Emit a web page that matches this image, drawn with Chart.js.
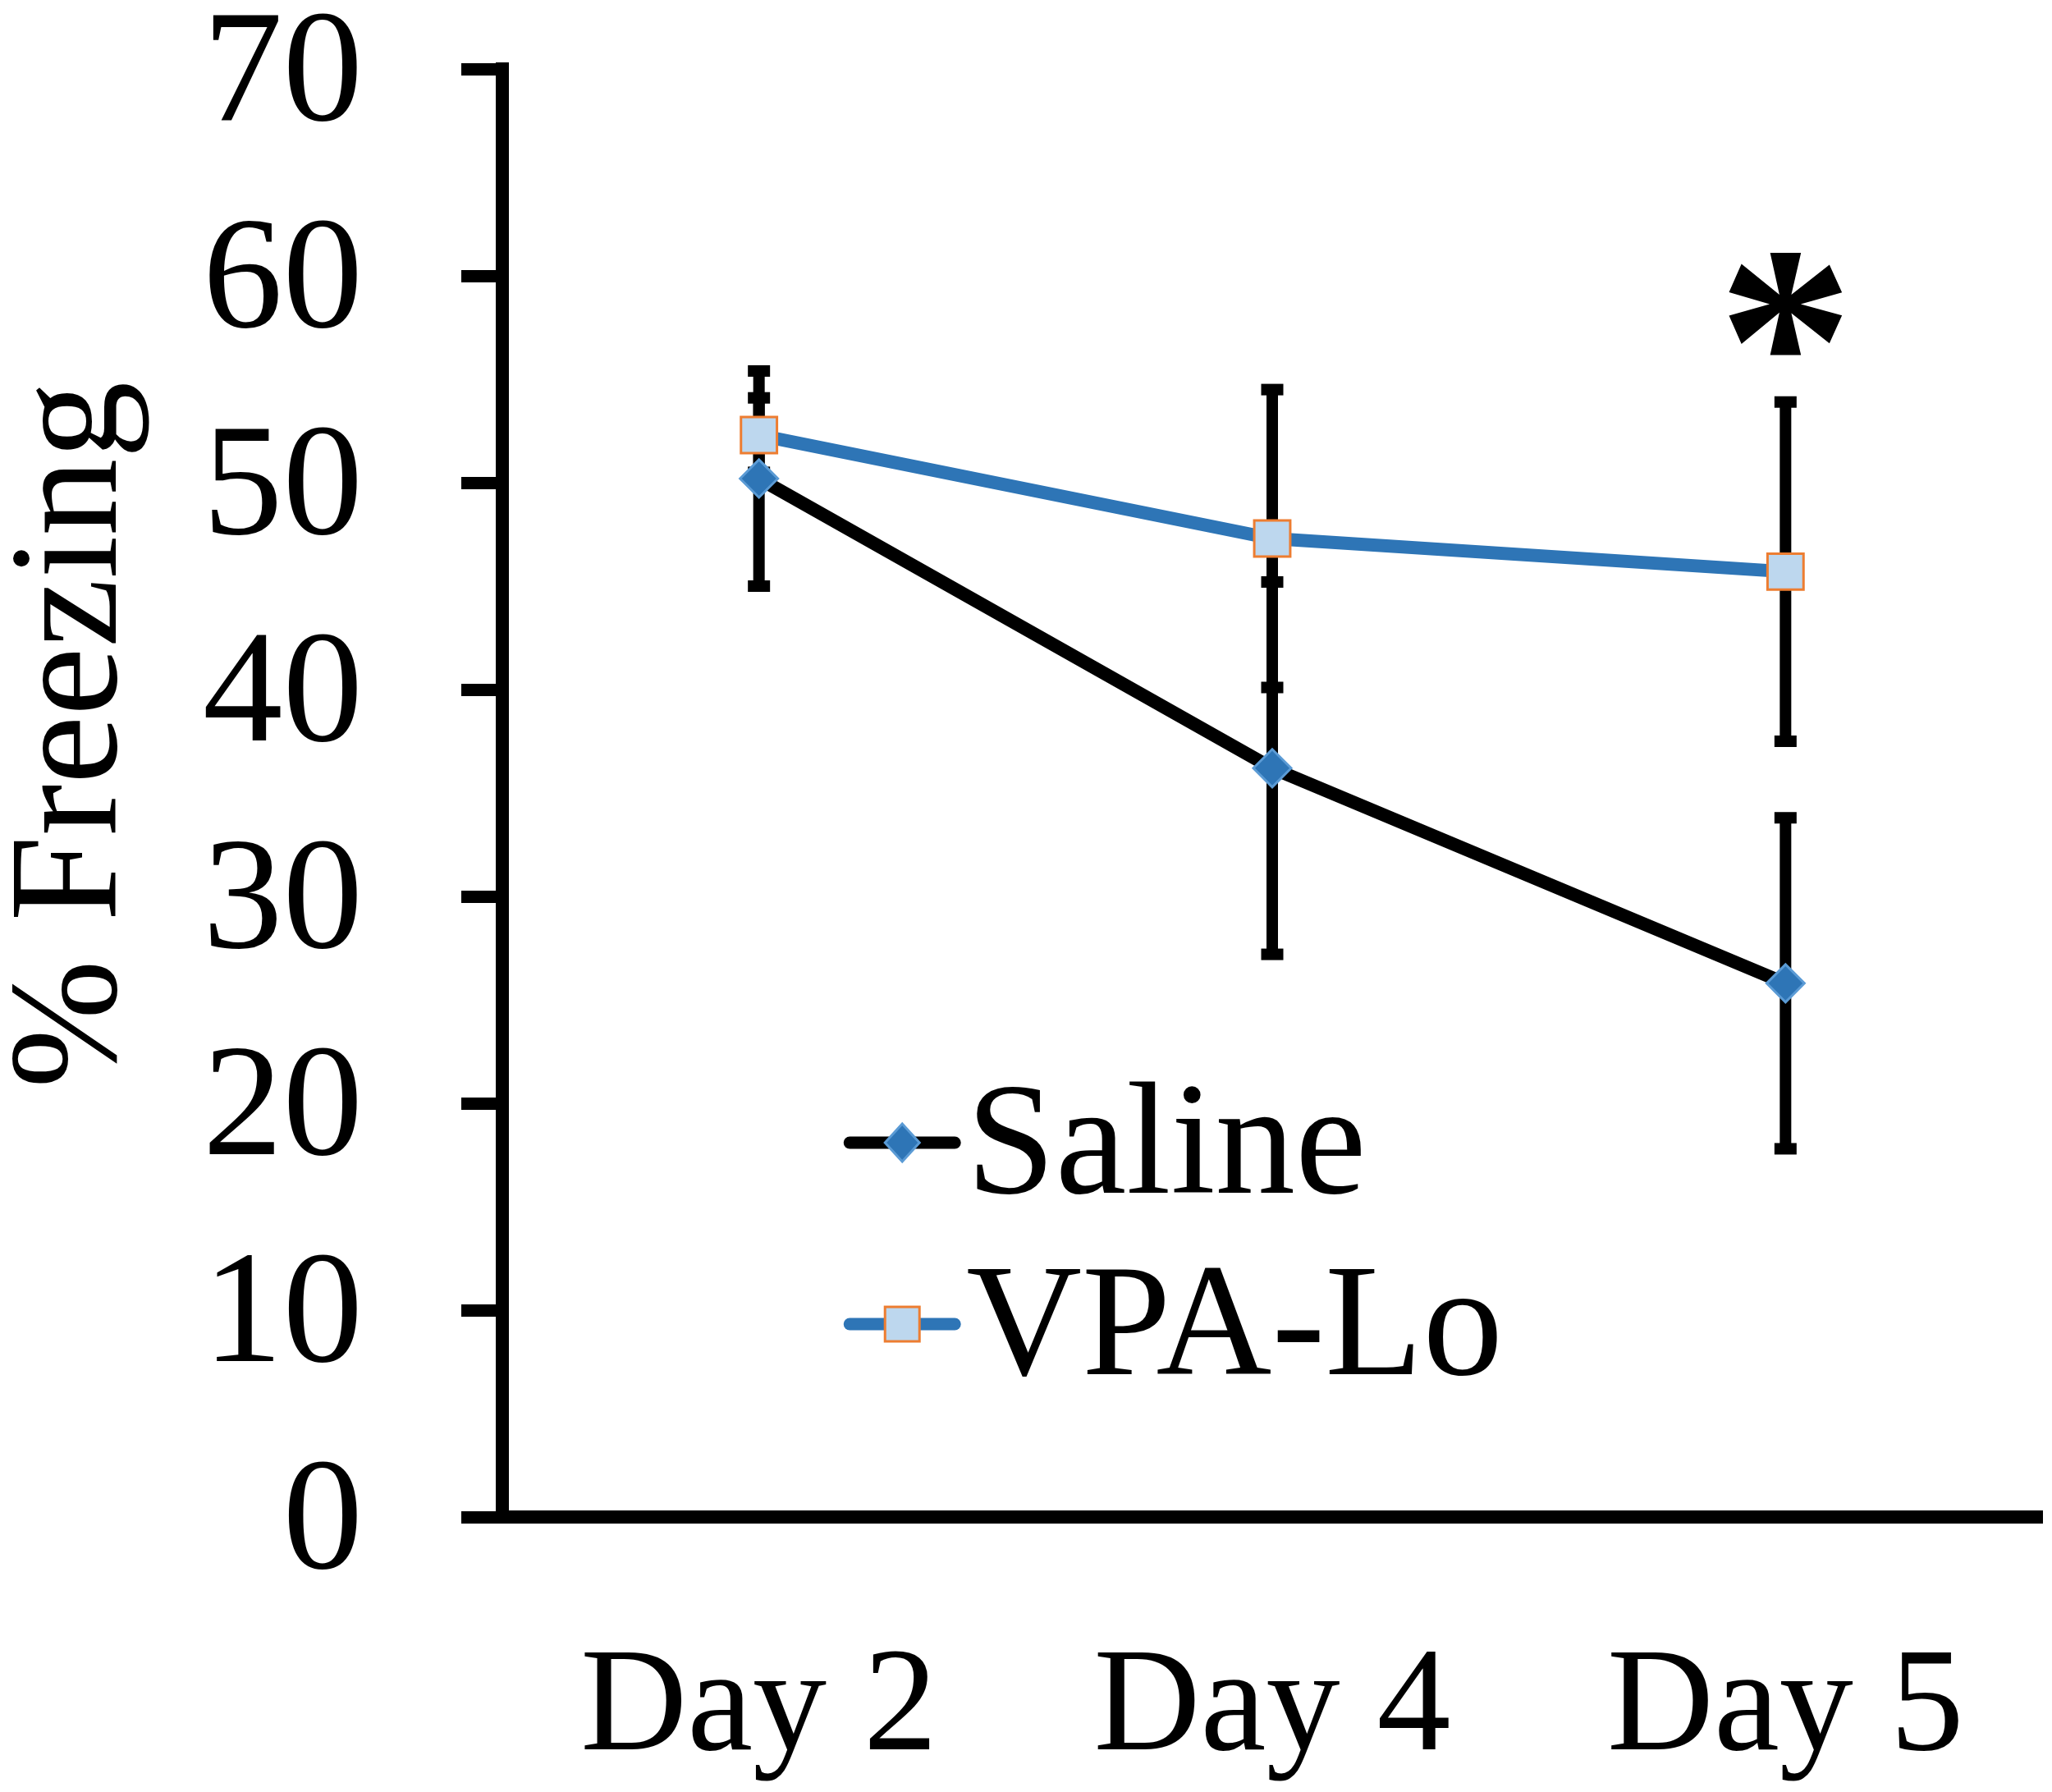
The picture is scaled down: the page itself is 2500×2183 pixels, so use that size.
<!DOCTYPE html>
<html>
<head>
<meta charset="utf-8">
<script src="https://cdn.jsdelivr.net/npm/chart.js@4.4.1/dist/chart.umd.min.js"></script>
<style>
    html, body { margin: 0; padding: 0; background: #fff; overflow: hidden; }
    #wrap { width: 2500px; height: 2183px; }
    canvas { display: block; }
</style>
</head>
<body>
<div id="wrap"><canvas id="freezingChart"></canvas></div>
<script>
// 데이터
const days = ['Day 2', 'Day 4', 'Day 5'];
const salineMean = [50.2, 36.2, 25.8];
const salineSem = [5.2, 9.0, 8.0];
const vpaMean = [52.3, 47.3, 45.7];
const vpaSem = [1.8, 7.2, 8.2];
const signif = ['', '', '*'];
const yTicks = [0, 10, 20, 30, 40, 50, 60, 70];

const serif = '"Liberation Serif", "Times New Roman", serif';

// 에러바 (데이터셋 아래에 그림)
const errorBars = {
    id: 'errorBars',
    beforeDatasetsDraw(chart) {
        const ctx = chart.ctx;
        const x = chart.scales.x;
        const y = chart.scales.y;
        const groups = [[salineMean, salineSem], [vpaMean, vpaSem]];
        ctx.save();
        ctx.strokeStyle = '#000';
        ctx.fillStyle = '#000';
        ctx.lineWidth = 14;
        groups.forEach(([mean, sem]) => {
            mean.forEach((m, i) => {
                const px = x.getPixelForValue(i);
                const top = y.getPixelForValue(m + sem[i]);
                const bot = y.getPixelForValue(m - sem[i]);
                ctx.beginPath();
                ctx.moveTo(px, top);
                ctx.lineTo(px, bot);
                ctx.stroke();
                ctx.fillRect(px - 13.5, top - 7, 27, 14);
                ctx.fillRect(px - 13.5, bot - 7, 27, 14);
            });
        });
        ctx.restore();
    }
};

// 제목, 범례, 별표
const extras = {
    id: 'extras',
    afterDraw(chart) {
        const ctx = chart.ctx;
        const area = chart.chartArea;
        const x = chart.scales.x;
        const y = chart.scales.y;
        ctx.save();

        // y축 제목
        ctx.fillStyle = '#000';
        ctx.font = '188px ' + serif;
        ctx.textAlign = 'center';
        ctx.textBaseline = 'alphabetic';
        ctx.translate(141, area.top + (area.bottom - area.top) * 0.46);
        ctx.rotate(-Math.PI / 2);
        ctx.fillText('% Freezing', 0, 0);
        ctx.setTransform(1, 0, 0, 1, 0, 0);

        // 유의성 표시
        ctx.font = 'bold 330px ' + serif;
        signif.forEach((s, i) => {
            if (!s) return;
            const topVal = Math.max(salineMean[i] + salineSem[i], vpaMean[i] + vpaSem[i]);
            ctx.fillText(s, x.getPixelForValue(i), y.getPixelForValue(topVal) + 36);
        });

        // 범례
        const w = area.right - area.left;
        const h = area.bottom - area.top;
        const lx0 = area.left + w * 0.2256;
        const lx1 = lx0 + 128;
        const mx = (lx0 + lx1) / 2;
        const rows = [
            { label: 'Saline', y: area.top + h * 0.7415, line: '#000' },
            { label: 'VPA-Lo', y: area.top + h * 0.8668, line: '#2E75B6' }
        ];
        rows.forEach((r, k) => {
            ctx.strokeStyle = r.line;
            ctx.lineWidth = 15;
            ctx.lineCap = 'round';
            ctx.beginPath();
            ctx.moveTo(lx0, r.y);
            ctx.lineTo(lx1, r.y);
            ctx.stroke();
            ctx.lineCap = 'butt';
            ctx.lineWidth = 3;
            if (k === 0) {
                ctx.fillStyle = '#2E75B6';
                ctx.strokeStyle = '#5B9BD5';
                ctx.beginPath();
                ctx.moveTo(mx, r.y - 23);
                ctx.lineTo(mx + 21, r.y);
                ctx.lineTo(mx, r.y + 23);
                ctx.lineTo(mx - 21, r.y);
                ctx.closePath();
                ctx.fill();
                ctx.stroke();
            } else {
                ctx.fillStyle = '#BDD7EE';
                ctx.strokeStyle = '#ED7D31';
                ctx.fillRect(mx - 21, r.y - 21, 42, 42);
                ctx.strokeRect(mx - 21, r.y - 21, 42, 42);
            }
            ctx.fillStyle = '#000';
            ctx.font = '195px ' + serif;
            ctx.textAlign = 'left';
            ctx.fillText(r.label, lx1 + 14, r.y + 61);
        });
        ctx.restore();
    }
};

const ctx = document.getElementById('freezingChart').getContext('2d');

new Chart(ctx, {
    type: 'line',
    data: {
        labels: days,
        datasets: [
            {
                label: 'Saline',
                data: salineMean,
                borderColor: '#000',
                borderWidth: 16,
                pointStyle: 'rectRot',
                pointRadius: 23,
                pointBackgroundColor: '#2E75B6',
                pointBorderColor: '#5B9BD5',
                pointBorderWidth: 3,
                tension: 0
            },
            {
                label: 'VPA-Lo',
                data: vpaMean,
                borderColor: '#2E75B6',
                borderWidth: 16,
                pointStyle: 'rect',
                pointRadius: 31,
                pointBackgroundColor: '#BDD7EE',
                pointBorderColor: '#ED7D31',
                pointBorderWidth: 3,
                tension: 0
            }
        ]
    },
    options: {
        responsive: true,
        maintainAspectRatio: false,
        devicePixelRatio: 1,
        animation: false,
        layout: {
            autoPadding: false,
            padding: { top: 84, right: 12, left: 0, bottom: 0 }
        },
        plugins: {
            legend: { display: false },
            tooltip: { enabled: false }
        },
        scales: {
            x: {
                offset: true,
                grid: { display: true, drawOnChartArea: false, drawTicks: false },
                border: { display: true, color: '#000', width: 16 },
                ticks: {
                    color: '#000',
                    padding: 128,
                    font: { family: serif, size: 180 }
                },
                afterFit(scale) {
                    scale.height = 335;
                    scale.paddingLeft = 0;
                    scale.paddingRight = 0;
                }
            },
            y: {
                min: 0,
                max: 70,
                afterBuildTicks(scale) {
                    scale.ticks = yTicks.map(v => ({ value: v }));
                },
                grid: {
                    display: true,
                    drawOnChartArea: false,
                    drawTicks: true,
                    tickLength: 50,
                    tickWidth: 15,
                    tickColor: '#000'
                },
                border: { display: true, color: '#000', width: 16 },
                ticks: {
                    color: '#000',
                    padding: 120,
                    labelOffset: 11,
                    font: { family: serif, size: 195, lineHeight: 0.8 }
                },
                afterFit(scale) {
                    scale.width = 612;
                    scale.paddingTop = 0;
                    scale.paddingBottom = 0;
                }
            }
        }
    },
    plugins: [errorBars, extras]
});
</script>
</body>
</html>
